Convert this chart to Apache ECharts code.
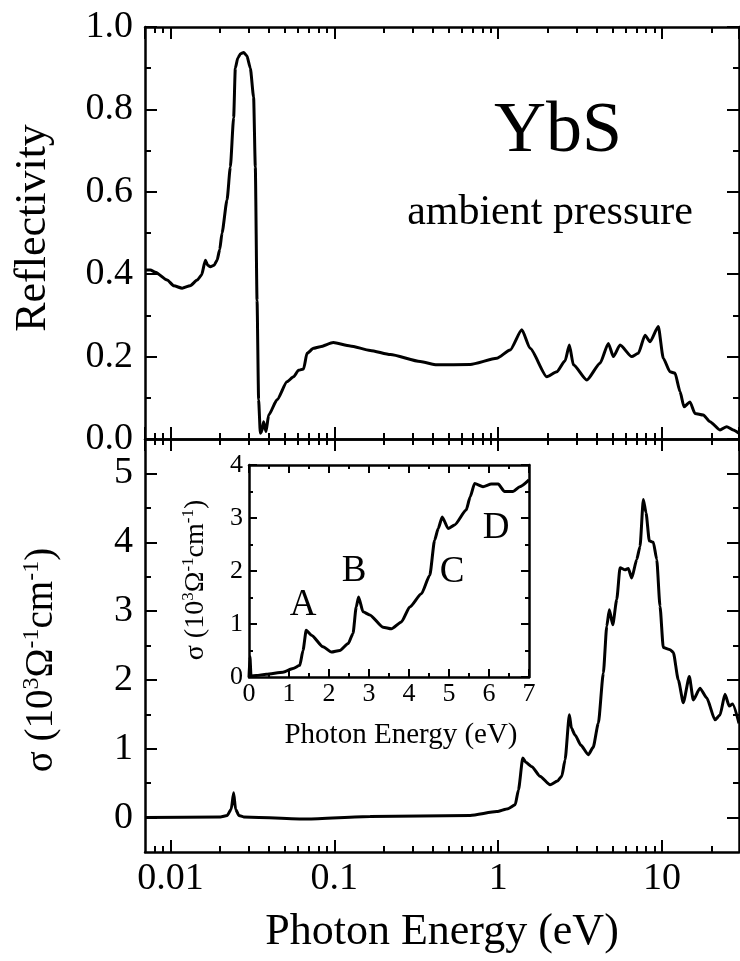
<!DOCTYPE html>
<html>
<head>
<meta charset="utf-8">
<title>YbS optical spectra</title>
<script src="https://cdn.jsdelivr.net/npm/echarts@6/dist/echarts.min.js"></script>
<style>
  html, body { margin: 0; padding: 0; background: #fff; }
  #chart { width: 740px; height: 961px; }
</style>
</head>
<body>
<div id="chart"></div>
<script>
// top panel: reflectivity vs photon energy (eV)
const energyR = [0.007, 0.00755, 0.0081, 0.00955, 0.0105, 0.0118, 0.0132, 0.0146, 0.0155, 0.01635,
  0.0169, 0.01754, 0.0185, 0.01927, 0.0200, 0.02066, 0.02216, 0.02322, 0.02432, 0.0249,
  0.0258, 0.0268, 0.02799, 0.0293, 0.03075, 0.0322, 0.03298, 0.03379, 0.03455, 0.03539,
  0.0362, 0.03707, 0.03833, 0.03977, 0.04473, 0.05146, 0.05647, 0.06058, 0.06498, 0.06816,
  0.07475, 0.08215, 0.0986, 0.125, 0.1657, 0.22, 0.3344, 0.4229, 0.6751, 0.982,
  1.184, 1.395, 1.567, 1.982, 2.28, 2.562, 2.721, 2.878, 3.475, 4.188,
  4.706, 5.047, 5.546, 6.535, 7.17, 7.876, 8.451, 9.493, 10.18, 11.19,
  12.0, 12.88, 13.62, 14.82, 15.89, 17.87, 19.62, 22.58, 24.81, 27.21, 29.5];
const reflectivity = [0.41, 0.41, 0.405, 0.386, 0.372, 0.366, 0.372, 0.386, 0.398, 0.434,
  0.422, 0.418, 0.422, 0.434, 0.46, 0.50, 0.58, 0.66, 0.78, 0.90,
  0.925, 0.935, 0.938, 0.93, 0.90, 0.83, 0.66, 0.337, 0.095, 0.014,
  0.02, 0.042, 0.018, 0.058, 0.095, 0.139, 0.151, 0.167, 0.17, 0.208,
  0.22, 0.224, 0.234, 0.226, 0.215, 0.205, 0.188, 0.18, 0.181, 0.196,
  0.216, 0.265, 0.22, 0.151, 0.163, 0.19, 0.228, 0.18, 0.143, 0.184,
  0.232, 0.2, 0.228, 0.2, 0.208, 0.252, 0.236, 0.273, 0.196, 0.163,
  0.16, 0.115, 0.078, 0.09, 0.062, 0.058, 0.042, 0.022, 0.03, 0.022, 0.014];

// bottom panel: optical conductivity (10^3 Ω^-1 cm^-1)
const energySigma = [0.007, 0.0202, 0.0222, 0.0235, 0.02432, 0.0250, 0.0262, 0.028, 0.068, 0.1657,
  0.6751, 0.982, 1.15, 1.27, 1.33, 1.414, 1.48, 1.605, 1.8, 2.075,
  2.3, 2.446, 2.562, 2.721, 2.8, 2.948, 3.2, 3.553, 3.8, 4.088,
  4.386, 4.6, 4.771, 5.006, 5.295, 5.546, 5.948, 6.229, 6.535, 7.011,
  7.342, 7.691, 7.987, 8.367, 8.851, 9.285, 9.723, 10.18, 11.19, 11.72,
  12.57, 13.49, 14.68, 15.52, 17.05, 18.74, 21.05, 22.58, 24.22, 25.73, 26.98, 29.5];
const sigma = [0, 0.01, 0.03, 0.12, 0.36, 0.12, 0.03, 0.01, -0.02, 0.015,
  0.03, 0.087, 0.13, 0.185, 0.40, 0.864, 0.80, 0.74, 0.6, 0.476,
  0.53, 0.60, 0.84, 1.495, 1.3, 1.2, 1.05, 0.913, 1.02, 1.37,
  2.1, 2.78, 3.02, 2.80, 3.17, 3.63, 3.6, 3.62, 3.48, 3.75,
  3.94, 4.62, 4.43, 4.02, 4.0, 3.75, 3.07, 2.47, 2.44, 2.40,
  2.0, 1.67, 2.05, 1.71, 1.88, 1.74, 1.42, 1.49, 1.79, 1.62, 1.65, 1.37];

// inset: conductivity on a linear energy scale
const energyInset = [0, 0.024, 0.05, 0.18, 0.43, 0.85, 1.1, 1.27, 1.35, 1.43,
  1.56, 1.85, 2.06, 2.27, 2.48, 2.6, 2.68, 2.74, 2.85, 3.02,
  3.35, 3.56, 3.81, 4.02, 4.31, 4.52, 4.64, 4.73, 4.83, 4.98,
  5.14, 5.43, 5.53, 5.64, 5.85, 6.06, 6.23, 6.39, 6.6, 6.77, 7.0];
const sigmaInset = [0, 0.38, 0.02, 0.03, 0.05, 0.09, 0.16, 0.22, 0.5, 0.88,
  0.79, 0.57, 0.47, 0.5, 0.63, 0.82, 1.32, 1.51, 1.23, 1.17,
  0.94, 0.91, 1.04, 1.32, 1.57, 1.92, 2.58, 2.8, 3.02, 2.8,
  2.87, 3.15, 3.4, 3.65, 3.59, 3.64, 3.64, 3.5, 3.5, 3.59, 3.72];

// ticks
const energyMin = 0.007, energyMax = 29.5;
const logMinorTicks = [0.008, 0.009, 0.02, 0.03, 0.04, 0.05, 0.06, 0.07, 0.08, 0.09,
  0.2, 0.3, 0.4, 0.5, 0.6, 0.7, 0.8, 0.9, 2, 3, 4, 5, 6, 7, 8, 9, 20];
const sigmaTicks = [0, 1, 2, 3, 4, 5];
const sigmaMinorTicks = [0.5, 1.5, 2.5, 3.5, 4.5];
const peakLabels = ['A', 'B', 'C', 'D'];

const FONT = '"Liberation Serif", "Times New Roman", serif';
const BLACK = '#000';

function zip(xs, ys) { return xs.map((x, i) => [x, ys[i]]); }

// one frame axis; labels off unless asked
function axis(o) {
  return {
    gridIndex: o.grid,
    type: o.type || 'value',
    position: o.position,
    min: o.min,
    max: o.max,
    interval: o.interval,
    axisLine: { show: o.line !== false, onZero: false, lineStyle: { color: BLACK, width: 2.5 } },
    axisTick: { show: true, inside: true, length: o.tickLen || 12, customValues: o.tickValues,
      lineStyle: { color: BLACK, width: 2 } },
    minorTick: { show: !!o.minor, splitNumber: o.minor || 5, length: o.minorLen || 6,
      lineStyle: { color: BLACK, width: 2 } },
    axisLabel: o.label ? Object.assign({ show: true, color: BLACK, fontFamily: FONT }, o.label) : { show: false },
    splitLine: { show: false },
    minorSplitLine: { show: false },
    z: 5
  };
}

const lgMin = Math.log10(energyMin), lgMax = Math.log10(energyMax);
const logMinorLg = logMinorTicks.map(v => Math.log10(v));
const fmtLog = v => String(parseFloat(Number(v).toPrecision(6)));

const xAxes = [];
[0, 1].forEach(g => {
  ['bottom', 'top'].forEach(pos => {
    xAxes.push(axis({ grid: g, type: 'log', position: pos, min: energyMin, max: energyMax,
      label: (g === 1 && pos === 'bottom') ? { fontSize: 38, margin: 8, formatter: fmtLog,
        showMinLabel: false, showMaxLabel: false } : null }));
  });
  ['bottom', 'top'].forEach(pos => {
    xAxes.push(axis({ grid: g, position: pos, min: lgMin, max: lgMax, line: false,
      tickLen: 6, tickValues: logMinorLg }));
  });
});
xAxes.push(axis({ grid: 2, position: 'bottom', min: 0, max: 7, interval: 1, minor: 2, tickLen: 8, minorLen: 4,
  label: { fontSize: 26, margin: 4 } }));
xAxes.push(axis({ grid: 2, position: 'top', min: 0, max: 7, interval: 1, minor: 2, tickLen: 8, minorLen: 4 }));

const yAxes = [
  axis({ grid: 0, position: 'left', min: 0, max: 1, interval: 0.2, minor: 2,
    label: { fontSize: 38, margin: 12, formatter: v => v.toFixed(1) } }),
  axis({ grid: 0, position: 'right', min: 0, max: 1, interval: 0.2, minor: 2 }),
  axis({ grid: 1, position: 'left', min: -0.5, max: 5.5, tickValues: sigmaTicks,
    label: { fontSize: 38, margin: 12, customValues: sigmaTicks } }),
  axis({ grid: 1, position: 'right', min: -0.5, max: 5.5, tickValues: sigmaTicks }),
  axis({ grid: 1, position: 'left', min: -0.5, max: 5.5, tickValues: sigmaMinorTicks, tickLen: 6, line: false }),
  axis({ grid: 1, position: 'right', min: -0.5, max: 5.5, tickValues: sigmaMinorTicks, tickLen: 6, line: false }),
  axis({ grid: 2, position: 'left', min: 0, max: 4, interval: 1, minor: 2, tickLen: 8, minorLen: 4,
    label: { fontSize: 26, margin: 6 } }),
  axis({ grid: 2, position: 'right', min: 0, max: 4, interval: 1, minor: 2, tickLen: 8, minorLen: 4 })
];

function curve(data, xi, yi) {
  return {
    type: 'line', data: data, xAxisIndex: xi, yAxisIndex: yi,
    showSymbol: false, smooth: 0.2, smoothMonotone: 'x',
    lineStyle: { color: BLACK, width: 3 }, z: 3
  };
}

function label(text, x, y, size, rot, rich) {
  return {
    type: 'text', x: x, y: y, rotation: rot || 0, z: 10,
    style: {
      text: text, fill: BLACK, fontFamily: FONT, fontSize: size,
      align: 'center', verticalAlign: 'middle', textAlign: 'center', textVerticalAlign: 'middle',
      rich: rich
    }
  };
}

function sigmaRich(big, small) {
  return {
    a: { fontFamily: FONT, fontSize: big, lineHeight: Math.round(big * 1.15), fill: BLACK },
    s: { fontFamily: FONT, fontSize: small, verticalAlign: 'top', fill: BLACK }
  };
}
const sigmaText = '{a|σ (10}{s|3}{a|Ω}{s|-1}{a|cm}{s|-1}{a|)}';

const peakPos = [[303, 605], [354, 571], [452, 572], [496, 528]];

const chart = echarts.init(document.getElementById('chart'), null, { renderer: 'canvas' });
chart.setOption({
  animation: false,
  backgroundColor: '#fff',
  grid: [
    { left: 145, top: 27, width: 594, height: 412, outerBoundsMode: 'none' },
    { left: 145, top: 439, width: 594, height: 413, outerBoundsMode: 'none' },
    { left: 249, top: 465, width: 280, height: 212, outerBoundsMode: 'none' }
  ],
  xAxis: xAxes,
  yAxis: yAxes,
  series: [
    curve(zip(energyR, reflectivity), 0, 0),
    curve(zip(energySigma, sigma), 4, 2),
    curve(zip(energyInset, sigmaInset), 8, 6)
  ],
  graphic: [
    label('Reflectivity', 33, 228, 44, Math.PI / 2),
    label(sigmaText, 42, 660, 39, Math.PI / 2, sigmaRich(39, 24)),
    label('Photon Energy (eV)', 442, 932, 44),
    label('YbS', 558, 132, 72),
    label('ambient pressure', 550, 213, 42),
    label(sigmaText, 196, 580, 28, Math.PI / 2, sigmaRich(28, 17)),
    label('Photon Energy (eV)', 401, 735, 29)
  ].concat(peakLabels.map((t, i) => label(t, peakPos[i][0], peakPos[i][1], 37)))
});
</script>
</body>
</html>
